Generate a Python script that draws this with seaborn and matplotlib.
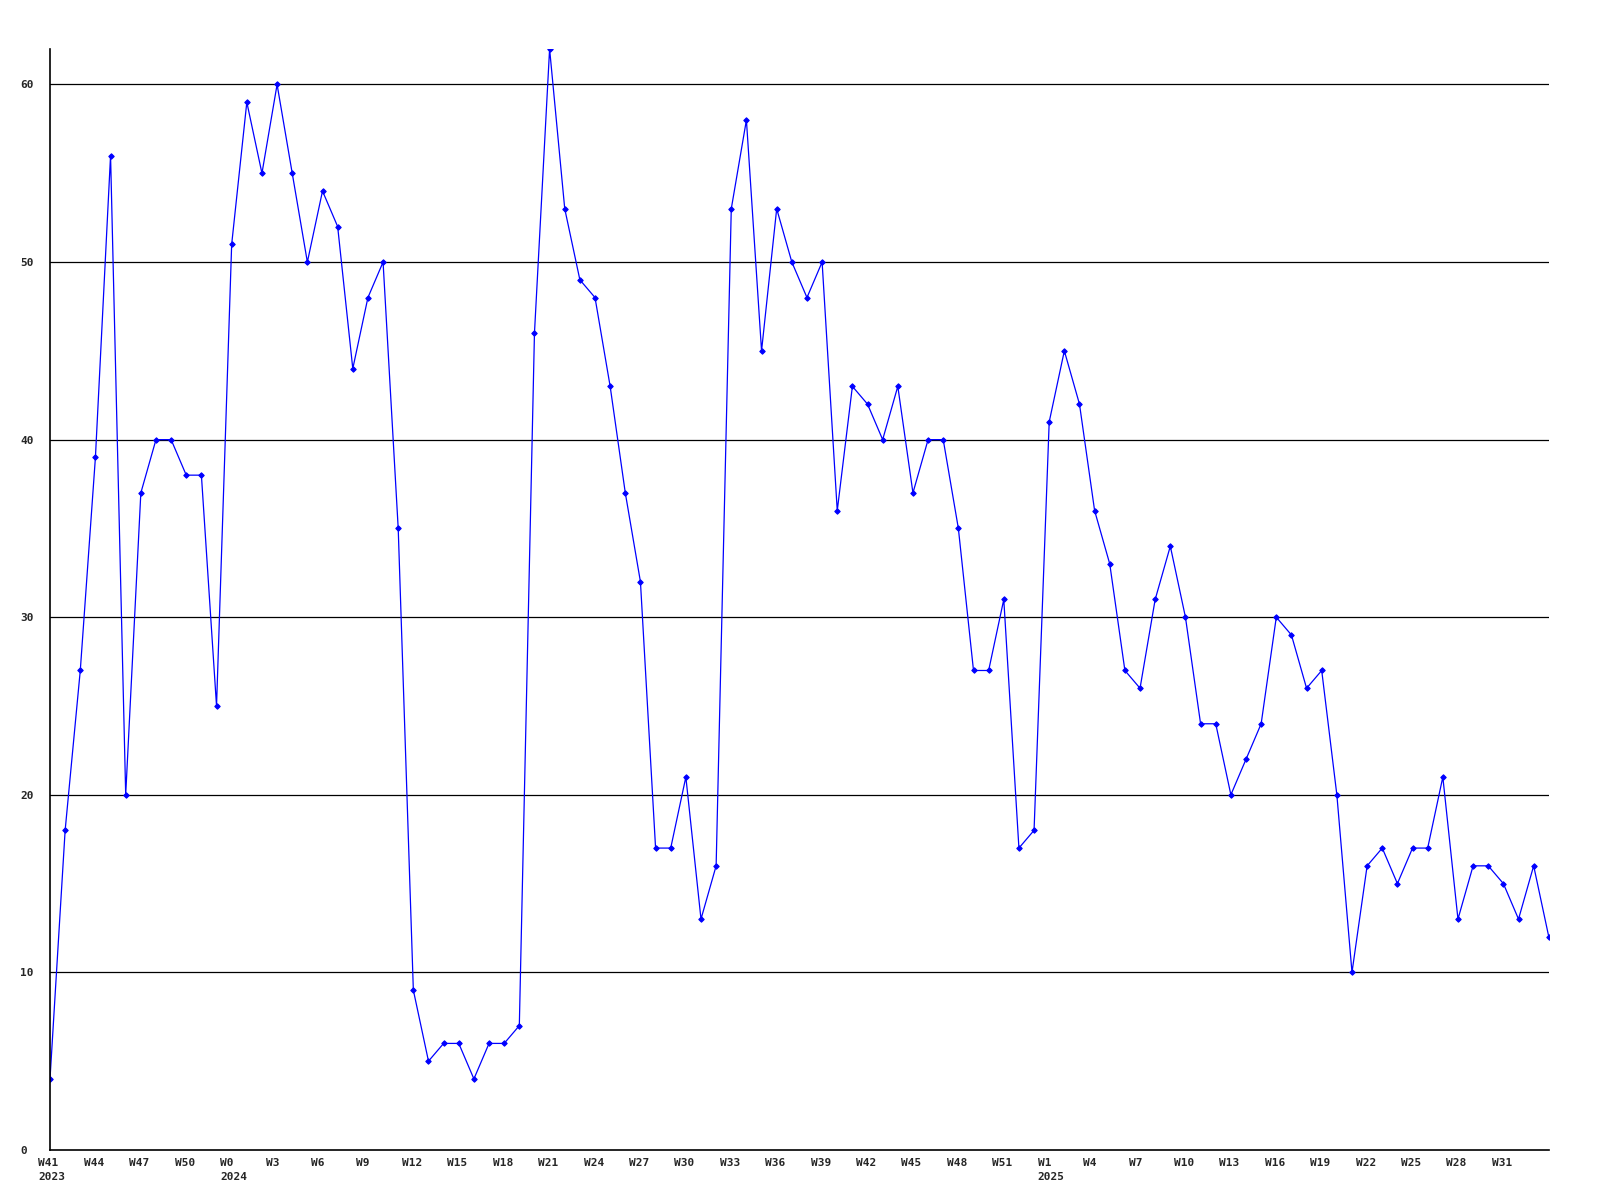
import matplotlib
matplotlib.use("Agg")
import matplotlib.pyplot as plt
import matplotlib.transforms as mtransforms
import seaborn as sns
import pandas as pd

# weekly counts, W41 2023 .. W33 2025
values = [4, 18, 27, 39, 56, 20, 37, 40, 40, 38, 38, 25,
          51, 59, 55, 60, 55, 50, 54, 52, 44, 48, 50, 35, 9, 5, 6, 6, 4, 6, 6, 7,
          46, 62, 53, 49, 48, 43, 37, 32, 17, 17, 21, 13, 16, 53, 58, 45, 53, 50,
          48, 50, 36, 43, 42, 40, 43, 37, 40, 40, 35, 27, 27, 31, 17, 18,
          41, 45, 42, 36, 33, 27, 26, 31, 34, 30, 24, 24, 20, 22, 24, 30, 29, 26,
          27, 20, 10, 16, 17, 15, 17, 17, 21, 13, 16, 16, 15, 13, 16, 12]

tick_labels = ["W41\n2023", "W44", "W47", "W50", "W0\n2024", "W3", "W6", "W9",
               "W12", "W15", "W18", "W21", "W24", "W27", "W30", "W33", "W36",
               "W39", "W42", "W45", "W48", "W51", "W1\n2025", "W4", "W7", "W10",
               "W13", "W16", "W19", "W22", "W25", "W28", "W31"]
y_ticks = [0, 10, 20, 30, 40, 50, 60]

df = pd.DataFrame({"idx": range(len(values)), "count": values})

sns.set_style("white")
plt.rcParams["font.family"] = ["DejaVu Sans Mono", "DejaVu Sans"]
plt.rcParams["font.weight"] = "bold"

fig = plt.figure(figsize=(16, 12), dpi=100)
ax = fig.add_axes([0.03125, 0.0417, 0.93675, 0.9175])

sns.lineplot(data=df, x="idx", y="count", ax=ax, color="#0000ff",
             linewidth=0.9, marker="D", markersize=2.8,
             markeredgecolor="#0000ff", markerfacecolor="#0000ff")

ax.set_xlim(0, len(values) - 1)
ax.set_ylim(0, 62)

for y in y_ticks[1:]:
    ax.axhline(y, color="black", linewidth=0.9, zorder=0)

ax.set_xticks([3 * i for i in range(len(tick_labels))])
ax.set_xticklabels(tick_labels, fontsize=8, fontweight="bold", linespacing=1.45)
ax.set_yticks(y_ticks)
ax.set_yticklabels([str(v) for v in y_ticks], fontsize=8, fontweight="bold")
ax.tick_params(axis="both", length=0)
ax.tick_params(axis="x", pad=6)
ax.tick_params(axis="y", pad=0)

# labels in the original are left aligned
xoff = mtransforms.ScaledTranslation(-11.5 / 100, 0, fig.dpi_scale_trans)
for lab in ax.get_xticklabels():
    lab.set_ha("left")
    lab.set_va("top")
    lab.set_transform(lab.get_transform() + xoff)
yoff = mtransforms.ScaledTranslation(-30 / 100, 0, fig.dpi_scale_trans)
for lab in ax.get_yticklabels():
    lab.set_ha("left")
    lab.set_transform(lab.get_transform() + yoff)

ax.set_xlabel("")
ax.set_ylabel("")
for side in ["top", "right"]:
    ax.spines[side].set_visible(False)
for side in ["left", "bottom"]:
    ax.spines[side].set_color("black")
    ax.spines[side].set_linewidth(1.2)

fig.savefig("out.png", dpi=100)
